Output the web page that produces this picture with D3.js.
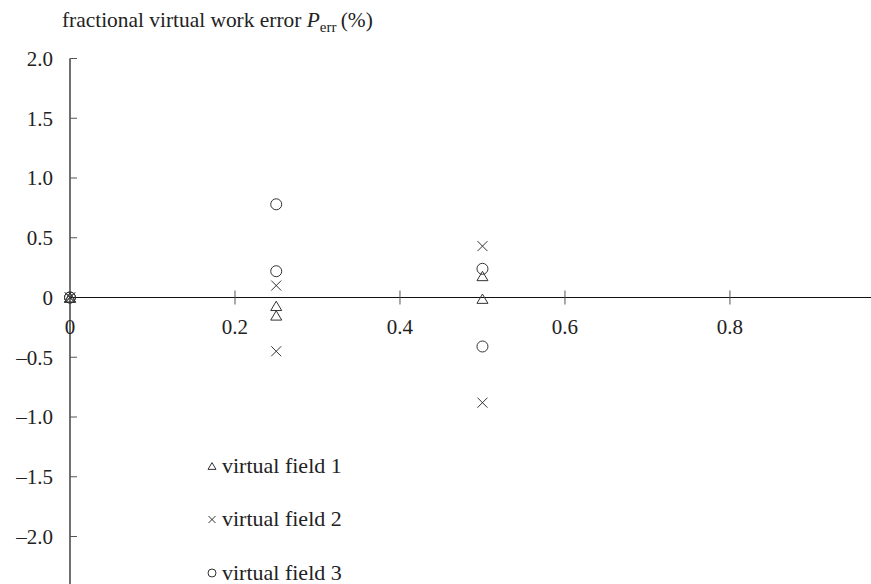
<!DOCTYPE html>
<html>
<head>
<meta charset="utf-8">
<script src="https://cdn.jsdelivr.net/npm/d3@7"></script>
<style>
  body { margin: 0; background: #fff; }
  svg text { font-family: "Liberation Serif", "Times New Roman", serif; fill: #222; }
</style>
</head>
<body>
<script>
// data
const xTicks = [0.2, 0.4, 0.6, 0.8];
const yTicks = [2.0, 1.5, 1.0, 0.5, -0.5, -1.0, -1.5, -2.0];
const yTickLabels = ["2.0", "1.5", "1.0", "0.5", "\u20130.5", "\u20131.0", "\u20131.5", "\u20132.0"];

const field1X = [0, 0, 0.25, 0.25, 0.5, 0.5];
const field1Y = [0, 0, -0.07, -0.15, 0.18, -0.01];
const field2X = [0, 0, 0.25, 0.25, 0.5, 0.5];
const field2Y = [0, 0, 0.1, -0.45, 0.43, -0.88];
const field3X = [0, 0, 0.25, 0.25, 0.5, 0.5];
const field3Y = [0, 0, 0.78, 0.22, 0.24, -0.41];

const legendLabels = ["virtual field 1", "virtual field 2", "virtual field 3"];
const legendShapes = ["triangle", "cross", "circle"];

const width = 871, height = 584;

const svg = d3.select("body").append("svg")
    .attr("width", width)
    .attr("height", height);

const x = d3.scaleLinear().domain([0, 0.971]).range([70, 871]);
const y = d3.scaleLinear().domain([0, 2]).range([297.5, 58.5]);

const stroke = "#333";

// title
const title = svg.append("text")
    .attr("x", 62)
    .attr("y", 27)
    .style("font-size", "21.4px");
title.append("tspan").text("fractional virtual work error ");
title.append("tspan").style("font-style", "italic").text("P");
title.append("tspan").attr("dy", 5).style("font-size", "15px").text("err");
title.append("tspan").attr("dy", -5).text("\u2009(%)");

// y axis
svg.append("line")
    .attr("x1", x(0)).attr("x2", x(0))
    .attr("y1", y(2)).attr("y2", height)
    .attr("stroke", "#111").attr("stroke-width", 1.2);

svg.selectAll(".ytick")
    .data(yTicks)
    .enter().append("line")
    .attr("x1", x(0)).attr("x2", x(0) + 7)
    .attr("y1", d => y(d)).attr("y2", d => y(d))
    .attr("stroke", "#555").attr("stroke-width", 1);

svg.selectAll(".ylabel")
    .data(yTicks)
    .enter().append("text")
    .attr("x", 53)
    .attr("y", d => y(d))
    .attr("dy", "0.35em")
    .attr("text-anchor", "end")
    .style("font-size", "21px")
    .text((d, i) => yTickLabels[i]);

svg.append("text")
    .attr("x", 53).attr("y", y(0)).attr("dy", "0.35em")
    .attr("text-anchor", "end")
    .style("font-size", "21px")
    .text("0");

// x axis
svg.append("line")
    .attr("x1", x(0)).attr("x2", width)
    .attr("y1", y(0)).attr("y2", y(0))
    .attr("stroke", "#111").attr("stroke-width", 1.2);

svg.selectAll(".xtick")
    .data(xTicks)
    .enter().append("line")
    .attr("x1", d => x(d)).attr("x2", d => x(d))
    .attr("y1", y(0) - 7).attr("y2", y(0) + 7)
    .attr("stroke", "#555").attr("stroke-width", 1);

svg.selectAll(".xlabel")
    .data([0].concat(xTicks))
    .enter().append("text")
    .attr("x", d => x(d))
    .attr("y", y(0) + 29)
    .attr("dy", "0.35em")
    .attr("text-anchor", "middle")
    .style("font-size", "21px")
    .text(d => d === 0 ? "0" : d.toFixed(1));

// marker drawing
function marker(g, shape, cx, cy, s) {
    if (shape === "circle") {
        g.append("circle").attr("cx", cx).attr("cy", cy).attr("r", s)
            .attr("fill", "none").attr("stroke", stroke).attr("stroke-width", 1);
    } else if (shape === "cross") {
        g.append("path")
            .attr("d", `M${cx - s},${cy - s}L${cx + s},${cy + s}M${cx - s},${cy + s}L${cx + s},${cy - s}`)
            .attr("fill", "none").attr("stroke", stroke).attr("stroke-width", 1);
    } else {
        const h = s * 1.7;
        g.append("path")
            .attr("d", `M${cx},${cy - h / 2}L${cx + s},${cy + h / 2}L${cx - s},${cy + h / 2}Z`)
            .attr("fill", "none").attr("stroke", stroke).attr("stroke-width", 1);
    }
}

const series = [
    { xs: field1X, ys: field1Y, shape: "triangle" },
    { xs: field2X, ys: field2Y, shape: "cross" },
    { xs: field3X, ys: field3Y, shape: "circle" }
];

const points = svg.append("g").attr("class", "points");
series.forEach(s => {
    s.xs.forEach((xv, i) => {
        const size = s.shape === "circle" ? 5.5 : (s.shape === "cross" ? 5 : 5.5);
        marker(points, s.shape, x(xv), y(s.ys[i]), size);
    });
});

// legend
const legend = svg.append("g").attr("class", "legend");
legendLabels.forEach((label, i) => {
    const ly = 465 + i * 53.5;
    const size = legendShapes[i] === "circle" ? 4 : (legendShapes[i] === "cross" ? 3.5 : 4);
    marker(legend, legendShapes[i], 212, ly + 1, size);
    legend.append("text")
        .attr("x", 222)
        .attr("y", ly)
        .attr("dy", "0.35em")
        .style("font-size", "22px")
        .text(label);
});
</script>
</body>
</html>
